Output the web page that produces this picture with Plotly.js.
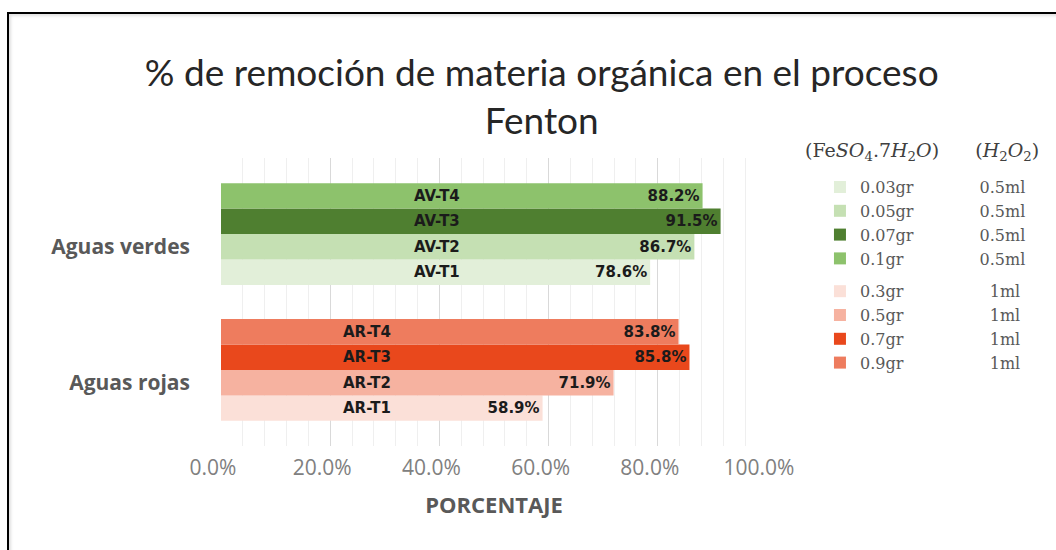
<!DOCTYPE html>
<html>
<head>
<meta charset="utf-8">
<script src="https://cdn.plot.ly/plotly-3.0.1.min.js"></script>
<style>
  html, body { margin: 0; padding: 0; background: #fff; }
  #wrap { position: relative; width: 1056px; height: 550px; overflow: hidden; }
  #chart { width: 1056px; height: 550px; }
  #frame { position: absolute; left: 7px; top: 12px; width: 1060px; height: 560px;
           border-top: 2px solid #000; border-left: 2px solid #000; pointer-events: none;
           box-shadow: inset 2px 2px 3px rgba(0,0,0,0.12); }
</style>
</head>
<body>
<div id="wrap"><div id="chart"></div><div id="frame"></div></div>
<script>
// ---- data ----
const categories = ['Aguas verdes', 'Aguas rojas'];
const namesAV = ['AV-T1', 'AV-T2', 'AV-T3', 'AV-T4'];
const valuesAV = [78.6, 86.7, 91.5, 88.2];
const namesAR = ['AR-T1', 'AR-T2', 'AR-T3', 'AR-T4'];
const valuesAR = [58.9, 71.9, 85.8, 83.8];
const feAV = ['0.03gr', '0.05gr', '0.07gr', '0.1gr'];
const h2o2AV = ['0.5ml', '0.5ml', '0.5ml', '0.5ml'];
const feAR = ['0.3gr', '0.5gr', '0.7gr', '0.9gr'];
const h2o2AR = ['1ml', '1ml', '1ml', '1ml'];
const colorsAV = ['#e2efd9', '#c5e0b3', '#4f7f30', '#8dc26c'];
const colorsAR = ['#fbe0d8', '#f6b2a0', '#e9481c', '#ee7c5e'];
const xTicks = [0, 20, 40, 60, 80, 100];

const NB = '\u00A0';
function legendName(fe, ml) {
  // pad so that the second column lines up (digits are 2 spaces wide)
  const pad = 13 + (6 - fe.length) * 2 + (5 - ml.length) * 1;
  return fe + NB.repeat(pad) + ml;
}

const labelFont = { family: 'DejaVu Sans', size: 15, color: '#1b1b1b' };
const traces = [];
function addGroup(cat, names, values, fe, ml, colors, grp) {
  for (let i = 0; i < names.length; i++) {
    traces.push({
      type: 'bar', orientation: 'h',
      y: [cat], x: [values[i]],
      offsetgroup: 'T' + (i + 1),
      name: legendName(fe[i], ml[i]),
      legendgroup: grp,
      marker: { color: colors[i], line: { width: 0 } },
      text: ['<b>' + values[i].toFixed(1) + '%</b>'],
      textposition: 'inside', insidetextanchor: 'end',
      textfont: labelFont,
      hoverinfo: 'skip'
    });
  }
}
addGroup(categories[0], namesAV, valuesAV, feAV, h2o2AV, colorsAV, 'g');
addGroup(categories[1], namesAR, valuesAR, feAR, h2o2AR, colorsAR, 'r');

// series-name labels inside bars
const bargap = 0.25, nGroups = 4;
const w = (1 - bargap) / nGroups;
const annotations = [];
function addNames(catIndex, names, xpos) {
  for (let i = 0; i < names.length; i++) {
    annotations.push({
      xref: 'x', yref: 'y', x: xpos, y: catIndex + (-(1 - bargap) / 2 + w * (i + 0.5)),
      text: names[i], showarrow: false,
      font: { family: 'DejaVu Sans', size: 15, color: '#1b1b1b', weight: 'bold' },
      xanchor: 'center', yanchor: 'middle'
    });
  }
}
// category indices: 'Aguas rojas' = 0 (bottom), 'Aguas verdes' = 1 (top)
addNames(1, namesAV, 39.5);
addNames(0, namesAR, 26.8);

annotations.push({
  xref: 'paper', yref: 'paper', x: 1.066, y: 1.021, xanchor: 'left', yanchor: 'middle',
  showarrow: false,
  text: '(Fe<i>SO</i><sub>4</sub>.7<i>H</i><sub>2</sub><i>O</i>)' + NB.repeat(6) + '(<i>H</i><sub>2</sub><i>O</i><sub>2</sub>)',
  font: { family: 'DejaVu Serif', size: 19, color: '#404040' }
});

const layout = {
  width: 1056, height: 550,
  margin: { l: 221, r: 289, t: 158, b: 104 },
  paper_bgcolor: '#ffffff', plot_bgcolor: '#ffffff',
  barmode: 'group', bargap: bargap, bargroupgap: 0,
  uniformtext: { mode: false },
  title: {
    text: '% de remoción de materia orgánica en el proceso<br>Fenton',
    font: { family: 'Lato', size: 37, color: '#262626' },
    x: 0.513, xref: 'container', xanchor: 'center', y: 0.843, yref: 'container', yanchor: 'middle'
  },
  xaxis: {
    range: [0, 100], tickvals: xTicks, ticktext: xTicks.map(v => v.toFixed(1) + '%'),
    showgrid: true, gridcolor: '#d9d9d9', gridwidth: 1,
    minor: { dtick: 4, showgrid: true, gridcolor: '#efefef', gridwidth: 1 },
    zeroline: false, showline: false,
    ticks: 'outside', ticklen: 3, tickcolor: 'rgba(0,0,0,0)', ticklabelshift: -8,
    tickfont: { family: 'Open Sans', size: 21, color: '#808080' },
    title: { text: 'PORCENTAJE', font: { family: 'Open Sans', size: 22, color: '#595959', weight: 'bold' }, standoff: 17 },
    fixedrange: true
  },
  yaxis: {
    type: 'category', categoryorder: 'array', categoryarray: ['Aguas rojas', 'Aguas verdes'],
    range: [-0.56, 1.56], showgrid: false, zeroline: false, showline: false,
    ticks: '', ticklabelstandoff: 30, ticklabelshift: 13,
    tickfont: { family: 'Open Sans', size: 21, color: '#595959', weight: 'bold' },
    fixedrange: true
  },
  legend: {
    x: 1.097, xanchor: 'left', y: 0.958, yanchor: 'top',
    font: { family: 'DejaVu Serif', size: 16, color: '#595959' },
    traceorder: 'grouped', tracegroupgap: 9, bgcolor: 'rgba(0,0,0,0)'
  },
  annotations: annotations,
  showlegend: true
};

Plotly.newPlot('chart', traces, layout, { displayModeBar: false, staticPlot: true });
</script>
</body>
</html>
